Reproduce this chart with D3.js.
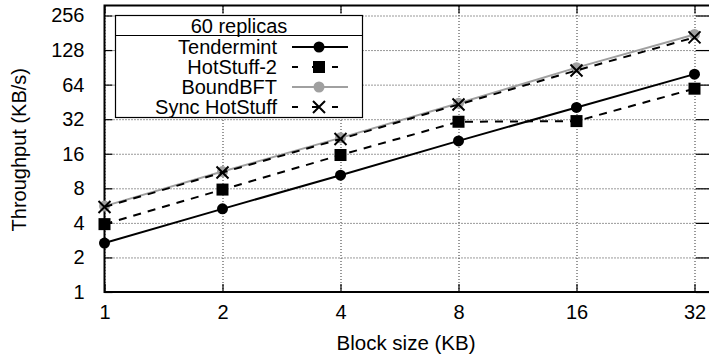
<!DOCTYPE html>
<html>
<head>
<meta charset="utf-8">
<script src="https://cdn.jsdelivr.net/npm/d3@7"></script>
<style>
  html, body { margin: 0; padding: 0; background: #fff; }
  svg { display: block; font-family: "Liberation Sans", Arial, Helvetica, sans-serif; }
</style>
</head>
<body>
<svg id="chart" width="709" height="360"></svg>
<script>
// Block sizes (KB) on the x axis
const blockSizes = [1, 2, 4, 8, 16, 32];
const xTickLabels = ["1", "2", "4", "8", "16", "32"];
const yTicks = [1, 2, 4, 8, 16, 32, 64, 128, 256];

// Throughput (KB/s) per protocol
const tendermint   = [2.67, 5.3, 10.4, 20.7, 40.5, 79];
const hotstuff2    = [3.9, 7.8, 15.6, 30.4, 30.8, 59];
const boundbft     = [5.6, 11.2, 22, 44, 90, 175];
const syncHotstuff = [5.5, 11, 21.5, 43, 85, 165];

const seriesNames = ["Tendermint", "HotStuff-2", "BoundBFT", "Sync HotStuff"];
const legendTitle = "60 replicas";

const series = [
  { name: seriesNames[0], values: tendermint,   color: "#000",    dash: null,  marker: "circle" },
  { name: seriesNames[1], values: hotstuff2,    color: "#000",    dash: "8,7", marker: "square" },
  { name: seriesNames[2], values: boundbft,     color: "#a0a0a0", dash: null,  marker: "circle" },
  { name: seriesNames[3], values: syncHotstuff, color: "#000",    dash: "8,7", marker: "cross" }
];

const svg = d3.select("#chart");
const pLeft = 104.5, pRight = 710, pTop = 5.5, pBottom = 292;

const x = d3.scaleLog().base(2).domain([1, 32]).range([pLeft, 694.5]);
const y = d3.scaleLog().base(2).domain([1, 256]).range([pBottom, 15.5]);

// dotted grid
const grid = svg.append("g");
grid.append("g")
  .attr("transform", `translate(0,${pBottom})`)
  .call(d3.axisBottom(x).tickValues(blockSizes).tickSize(-(pBottom - pTop)).tickFormat(""))
  .call(g => g.select(".domain").remove())
  .selectAll("line").attr("stroke", "#333").attr("stroke-dasharray", "1,2");
grid.append("g")
  .attr("transform", `translate(${pLeft},0)`)
  .call(d3.axisLeft(y).tickValues(yTicks).tickSize(-(pRight - pLeft)).tickFormat(""))
  .call(g => g.select(".domain").remove())
  .selectAll("line").attr("stroke", "#333").attr("stroke-dasharray", "1,2");

// axes: ticks pointing inward, mirrored on top and right
const tickLen = 8;
const axB = svg.append("g").attr("transform", `translate(0,${pBottom})`)
  .call(d3.axisBottom(x).tickValues(blockSizes).tickSizeInner(-tickLen).tickSizeOuter(0)
    .tickFormat((d, i) => xTickLabels[i]).tickPadding(tickLen + 12));
const axL = svg.append("g").attr("transform", `translate(${pLeft},0)`)
  .call(d3.axisLeft(y).tickValues(yTicks).tickSizeInner(-tickLen).tickSizeOuter(0)
    .tickFormat(d3.format("d")).tickPadding(tickLen + 12));
const axT = svg.append("g").attr("transform", `translate(0,${pTop})`)
  .call(d3.axisTop(x).tickValues(blockSizes).tickSizeInner(-tickLen).tickSizeOuter(0).tickFormat(""));
const axR = svg.append("g").attr("transform", `translate(${pRight},0)`)
  .call(d3.axisRight(y).tickValues(yTicks).tickSizeInner(-14).tickSizeOuter(0).tickFormat(""));
[axB, axL, axT, axR].forEach(a => {
  a.select(".domain").remove();
  a.selectAll("line").attr("stroke", "#000").attr("stroke-width", 1.2);
  a.selectAll("text").attr("font-size", 20).attr("fill", "#000")
    .attr("font-family", "'Liberation Sans', Arial, sans-serif");
});
axB.selectAll("text").attr("dy", "0.71em").attr("y", 13);

// plot border
svg.append("rect")
  .attr("x", pLeft).attr("y", pTop).attr("width", pRight - pLeft).attr("height", pBottom - pTop)
  .attr("fill", "none").attr("stroke", "#000").attr("stroke-width", 2);

// axis titles
svg.append("text")
  .attr("transform", `translate(26,${(pTop + pBottom) / 2 + 1}) rotate(-90)`)
  .attr("text-anchor", "middle").attr("font-size", 20).text("Throughput (KB/s)");
svg.append("text")
  .attr("x", 406).attr("y", 350)
  .attr("text-anchor", "middle").attr("font-size", 20.5).text("Block size (KB)");

function drawMarker(g, type, cx, cy, color) {
  if (type === "circle") {
    g.append("circle").attr("cx", cx).attr("cy", cy).attr("r", 5.5).attr("fill", color);
  } else if (type === "square") {
    g.append("rect").attr("x", cx - 6).attr("y", cy - 6).attr("width", 12).attr("height", 12).attr("fill", color);
  } else {
    const s = 6;
    g.append("path")
      .attr("d", `M${cx - s},${cy - s}L${cx + s},${cy + s}M${cx - s},${cy + s}L${cx + s},${cy - s}`)
      .attr("stroke", color).attr("stroke-width", 2).attr("fill", "none");
  }
}

// data lines and markers
const line = d3.line().x((d, i) => x(blockSizes[i])).y(d => y(d));
series.forEach(s => {
  const g = svg.append("g");
  g.append("path").attr("d", line(s.values))
    .attr("fill", "none").attr("stroke", s.color).attr("stroke-width", 2)
    .attr("stroke-dasharray", s.dash);
  s.values.forEach((v, i) => drawMarker(g, s.marker, x(blockSizes[i]), y(v), s.color));
});

// legend
const lg = svg.append("g");
const lx0 = 115.5, lx1 = 362.5, ly0 = 15.5, ly1 = 117.5;
lg.append("rect").attr("x", lx0).attr("y", ly0).attr("width", lx1 - lx0).attr("height", ly1 - ly0)
  .attr("fill", "#fff").attr("stroke", "#000").attr("stroke-width", 1.2);
lg.append("line").attr("x1", lx0).attr("x2", lx1).attr("y1", 35.5).attr("y2", 35.5)
  .attr("stroke", "#000").attr("stroke-width", 1.2);
lg.append("text").attr("x", (lx0 + lx1) / 2).attr("y", 26).attr("dy", "0.35em")
  .attr("text-anchor", "middle").attr("font-size", 20).text(legendTitle);
series.forEach((s, i) => {
  const cy = 47 + i * 20;
  lg.append("text").attr("x", 277).attr("y", cy).attr("dy", "0.35em")
    .attr("text-anchor", "end").attr("font-size", 20).text(s.name);
  lg.append("line").attr("x1", 292).attr("x2", 348).attr("y1", cy).attr("y2", cy)
    .attr("stroke", s.color).attr("stroke-width", 2).attr("stroke-dasharray", s.dash ? "6,14" : null);
  drawMarker(lg, s.marker, 319, cy, s.color);
});
</script>
</body>
</html>
